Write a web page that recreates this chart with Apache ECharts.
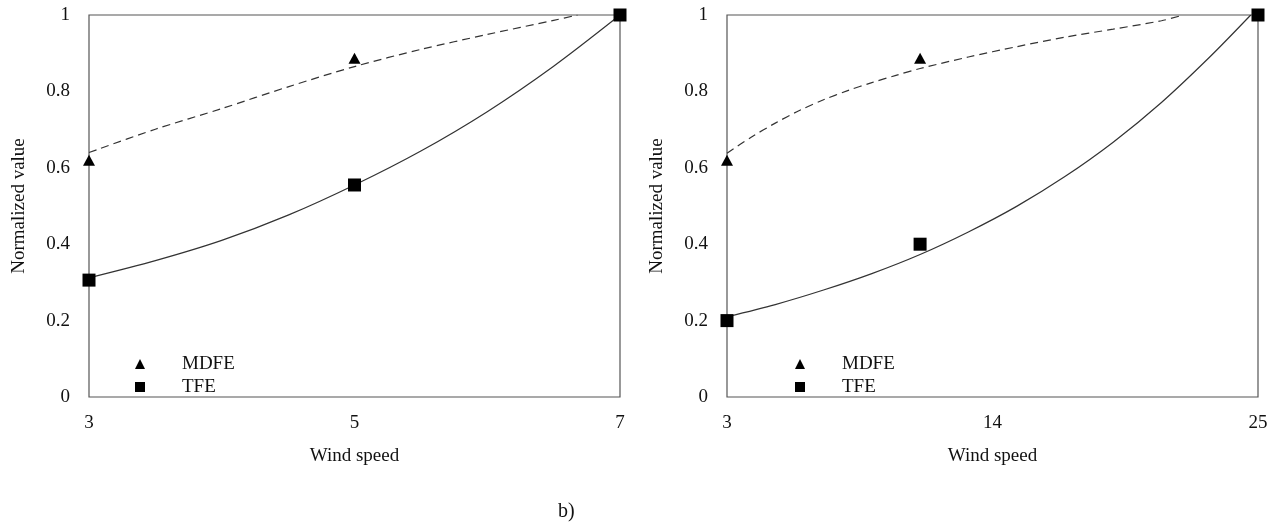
<!DOCTYPE html>
<html>
<head>
<meta charset="utf-8">
<script src="https://cdn.jsdelivr.net/npm/echarts@6/dist/echarts.min.js"></script>
<style>
html,body{margin:0;padding:0;background:#fff;}
#chart{width:1275px;height:523px;}
</style>
</head>
<body>
<div id="chart"></div>
<script>
// ---- Data ----
const leftWind = [3, 5, 7];
const leftMDFE = [0.62, 0.887, 1.0];
const leftTFE = [0.306, 0.555, 1.0];

const rightWind = [3, 11, 25];
const rightMDFE = [0.62, 0.887, 1.0];
const rightTFE = [0.2, 0.40, 1.0];

// Trend curves
const leftMDFETrendX = [3, 3.5, 4, 4.5, 5, 5.5, 6, 6.5, 6.68];
const leftMDFETrendY = [0.64, 0.701, 0.755, 0.812, 0.865, 0.91, 0.949, 0.986, 1.0];
const leftTFETrendX = [3, 3.5, 4, 4.5, 5, 5.5, 6, 6.5, 7];
const leftTFETrendY = [0.312, 0.357, 0.41, 0.476, 0.555, 0.644, 0.747, 0.866, 1.0];

const rightMDFETrendX = [3, 4, 5, 6, 7, 8, 9, 10, 11, 13, 15, 17, 19, 21, 21.9];
const rightMDFETrendY = [0.638, 0.68, 0.717, 0.75, 0.778, 0.802, 0.823, 0.842, 0.86, 0.89, 0.917, 0.942, 0.963, 0.985, 1.0];
const rightTFETrendX = [3, 5, 7, 9, 11, 13, 15, 17, 19, 21, 23, 24.7];
const rightTFETrendY = [0.21, 0.242, 0.28, 0.323, 0.373, 0.432, 0.499, 0.577, 0.667, 0.771, 0.89, 1.0];

const leftXTicks = [3, 5, 7];
const rightXTicks = [3, 14, 25];

const xName = 'Wind speed';
const yName = 'Normalized value';
const seriesNames = ['MDFE', 'TFE'];
const caption = 'b)';

function pairs(xs, ys) { return xs.map((x, i) => [x, ys[i]]); }

const FONT = 'Liberation Serif';
const TXT = '#111';

function xAxisCfg(gridIndex, min, max, ticks) {
  return {
    type: 'value', gridIndex, min, max,
    name: xName, nameLocation: 'middle', nameGap: 50,
    nameTextStyle: { fontFamily: FONT, fontSize: 19, color: TXT },
    axisLine: { show: false }, axisTick: { show: false }, splitLine: { show: false },
    axisLabel: { customValues: ticks, margin: 17, fontFamily: FONT, fontSize: 19, color: TXT }
  };
}
function yAxisCfg(gridIndex) {
  return {
    type: 'value', gridIndex, min: 0, max: 1, interval: 0.2,
    name: yName, nameLocation: 'middle', nameGap: 60,
    nameTextStyle: { fontFamily: FONT, fontSize: 19, color: TXT },
    axisLine: { show: false }, axisTick: { show: false }, splitLine: { show: false },
    axisLabel: { margin: 19, fontFamily: FONT, fontSize: 19, color: TXT }
  };
}
function trend(idx, name, xs, ys, dashed) {
  return {
    type: 'line', name: name + ' trend', xAxisIndex: idx, yAxisIndex: idx,
    data: pairs(xs, ys), showSymbol: false, smooth: 0.3,
    silent: true, legendHoverLink: false,
    lineStyle: { color: '#333', width: 1.2, type: dashed ? [8, 5] : 'solid' },
    z: 2
  };
}
function pts(idx, name, xs, ys, symbol, size) {
  return {
    type: 'scatter', name, xAxisIndex: idx, yAxisIndex: idx,
    data: pairs(xs, ys), symbol, symbolSize: size,
    itemStyle: { color: '#000', opacity: 1 }, z: 5
  };
}
function legendCfg(left) {
  return {
    left, top: 349, orient: 'vertical', itemWidth: 10, itemHeight: 10, itemGap: 3,
    data: [
      { name: seriesNames[0], icon: 'triangle' },
      { name: seriesNames[1], icon: 'rect' }
    ],
    itemStyle: { opacity: 1 },
    textStyle: { fontFamily: FONT, fontSize: 19, color: TXT, padding: [0, 0, 0, 32], lineHeight: 20 },
    selectedMode: false
  };
}

const chart = echarts.init(document.getElementById('chart'), null, { renderer: 'canvas' });
chart.setOption({
  backgroundColor: '#fff',
  animation: false,
  title: {
    text: caption, left: 553, top: 497,
    textStyle: { fontFamily: FONT, fontSize: 20, fontWeight: 'normal', color: TXT }
  },
  grid: [
    { left: 89, right: 655, top: 15, bottom: 126, show: true, borderColor: '#555', borderWidth: 1.2, backgroundColor: 'transparent' },
    { left: 727, right: 17, top: 15, bottom: 126, show: true, borderColor: '#555', borderWidth: 1.2, backgroundColor: 'transparent' }
  ],
  xAxis: [xAxisCfg(0, 3, 7, leftXTicks), xAxisCfg(1, 3, 25, rightXTicks)],
  yAxis: [yAxisCfg(0), yAxisCfg(1)],
  legend: [legendCfg(130), legendCfg(790)],
  series: [
    trend(0, 'MDFE', leftMDFETrendX, leftMDFETrendY, true),
    trend(0, 'TFE', leftTFETrendX, leftTFETrendY, false),
    trend(1, 'MDFE', rightMDFETrendX, rightMDFETrendY, true),
    trend(1, 'TFE', rightTFETrendX, rightTFETrendY, false),
    pts(0, 'MDFE', leftWind, leftMDFE, 'triangle', [12, 11]),
    pts(0, 'TFE', leftWind, leftTFE, 'rect', 13),
    pts(1, 'MDFE', rightWind, rightMDFE, 'triangle', [12, 11]),
    pts(1, 'TFE', rightWind, rightTFE, 'rect', 13)
  ]
});
</script>
</body>
</html>
